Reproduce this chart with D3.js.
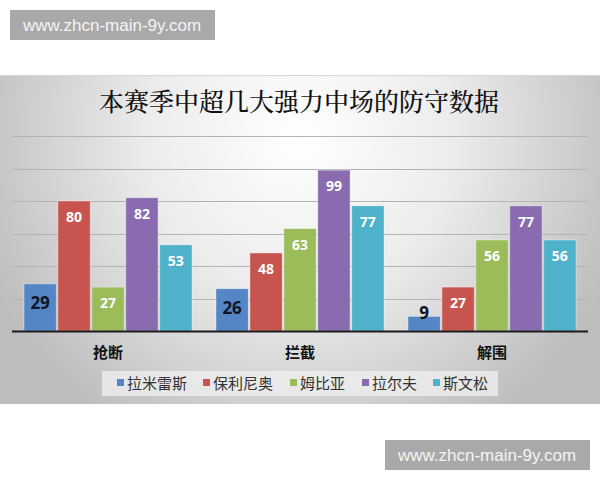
<!DOCTYPE html>
<html>
<head>
<meta charset="utf-8">
<script src="https://cdn.jsdelivr.net/npm/d3@7/dist/d3.min.js"></script>
<style>
  body { margin: 0; background: #fff; }
  svg { display: block; }
</style>
</head>
<body>
<script>
var categories = ["抢断", "拦截", "解围"];
var players = ["拉米雷斯", "保利尼奥", "姆比亚", "拉尔夫", "斯文松"];
var colors = ["#5485c5", "#c8544f", "#9cbc5a", "#8a6baf", "#4fb2cb"];
// one row per player, one value per category
var values = [
    [29, 26, 9],
    [80, 48, 27],
    [27, 63, 56],
    [82, 99, 77],
    [53, 77, 56]
];
var yTicks = [20, 40, 60, 80, 100, 120];

var width = 600, height = 480;
var plotLeft = 12, plotRight = 588;
var plotTop = 136, plotBottom = 331;

var svg = d3.select("body").append("svg")
    .attr("width", width)
    .attr("height", height);

var defs = svg.append("defs");
var grad = defs.append("radialGradient")
    .attr("id", "bg")
    .attr("gradientUnits", "userSpaceOnUse")
    .attr("cx", 300).attr("cy", 140).attr("r", 340);
grad.append("stop").attr("offset", "0").attr("stop-color", "#ffffff");
grad.append("stop").attr("offset", "0.45").attr("stop-color", "#ececec");
grad.append("stop").attr("offset", "1").attr("stop-color", "#bdbdbd");

// chart panel
svg.append("rect")
    .attr("x", 0).attr("y", 75)
    .attr("width", 600).attr("height", 329)
    .attr("fill", "url(#bg)");
svg.append("line")
    .attr("x1", 0).attr("x2", 600)
    .attr("y1", 75.5).attr("y2", 75.5)
    .attr("stroke", "#d8d8d8");

svg.append("text")
    .attr("x", 299).attr("y", 111)
    .attr("text-anchor", "middle")
    .attr("font-family", "'Noto Serif CJK SC', 'Noto Sans CJK SC', serif")
    .attr("font-size", 25)
    .attr("font-weight", 500)
    .attr("fill", "#111")
    .text("本赛季中超几大强力中场的防守数据");

var y = d3.scaleLinear().domain([0, 120]).range([plotBottom, plotTop]);

var x0 = d3.scaleBand().domain(categories).range([plotLeft, plotRight]);
var x1 = d3.scaleBand().domain(players)
    .range([12, x0.bandwidth() - 12])
    .paddingInner(0.05);

svg.append("g").selectAll("line")
    .data(yTicks)
    .join("line")
    .attr("x1", plotLeft).attr("x2", plotRight)
    .attr("y1", function(d) { return Math.round(y(d)) + 0.5; })
    .attr("y2", function(d) { return Math.round(y(d)) + 0.5; })
    .attr("stroke", "#b4b4b4")
    .attr("stroke-width", 1);

var groups = svg.append("g").selectAll("g")
    .data(categories)
    .join("g")
    .attr("transform", function(d) { return "translate(" + x0(d) + ",0)"; });

groups.selectAll("rect")
    .data(function(c, ci) {
        return players.map(function(p, pi) { return {player: p, i: pi, v: values[pi][ci]}; });
    })
    .join("rect")
    .attr("x", function(d) { return x1(d.player); })
    .attr("y", function(d) { return y(d.v); })
    .attr("width", x1.bandwidth())
    .attr("height", function(d) { return plotBottom - y(d.v); })
    .attr("fill", function(d) { return colors[d.i]; })
    .attr("stroke", "rgba(255,255,255,0.45)")
    .attr("stroke-width", 0.8);

groups.selectAll("text.val")
    .data(function(c, ci) {
        return players.map(function(p, pi) { return {player: p, i: pi, v: values[pi][ci]}; });
    })
    .join("text")
    .attr("class", "val")
    .attr("x", function(d) { return x1(d.player) + x1.bandwidth() / 2; })
    .attr("y", function(d) {
        var h = plotBottom - y(d.v);
        if (h < 30) return y(d.v) + 3;
        return y(d.v) + (d.i == 0 ? 25 : 21);
    })
    .attr("text-anchor", "middle")
    .attr("font-family", "'Open Sans', 'DejaVu Sans', sans-serif")
    .attr("font-weight", "bold")
    .attr("font-size", function(d) { return d.i == 0 ? 17 : 14; })
    .attr("fill", function(d) {
        if (d.i == 0) return "#0e1626";
        return plotBottom - y(d.v) < 30 ? "#111" : "#fff";
    })
    .text(function(d) { return d.v; });

// x axis baseline
svg.append("line")
    .attr("x1", plotLeft).attr("x2", plotRight)
    .attr("y1", plotBottom + 0.5).attr("y2", plotBottom + 0.5)
    .attr("stroke", "#1a1a1a")
    .attr("stroke-width", 2);

svg.append("g").selectAll("text")
    .data(categories)
    .join("text")
    .attr("x", function(d) { return x0(d) + x0.bandwidth() / 2; })
    .attr("y", 358)
    .attr("text-anchor", "middle")
    .attr("font-family", "'Noto Sans CJK SC', sans-serif")
    .attr("font-weight", "bold")
    .attr("font-size", 15)
    .attr("fill", "#111")
    .text(function(d) { return d; });

// legend
var legendX = [117, 203, 290, 362, 433];
var legend = svg.append("g");
legend.append("rect")
    .attr("x", 102).attr("y", 371)
    .attr("width", 396).attr("height", 25)
    .attr("fill", "#f0f0f0")
    .attr("fill-opacity", 0.75);

var items = legend.selectAll("g")
    .data(players)
    .join("g")
    .attr("transform", function(d, i) { return "translate(" + legendX[i] + ",383)"; });
items.append("rect")
    .attr("x", 0).attr("y", -4)
    .attr("width", 7).attr("height", 7)
    .attr("fill", function(d, i) { return colors[i]; });
items.append("text")
    .attr("x", 10).attr("y", 6)
    .attr("font-family", "'Noto Sans CJK SC', sans-serif")
    .attr("font-size", 15)
    .attr("fill", "#333")
    .text(function(d) { return d; });

// watermarks
function watermark(x, yy) {
    svg.append("rect")
        .attr("x", x).attr("y", yy)
        .attr("width", 205).attr("height", 30)
        .attr("fill", "#a9a9a9");
    svg.append("text")
        .attr("x", x + 102).attr("y", yy + 21)
        .attr("text-anchor", "middle")
        .attr("font-family", "'Liberation Sans', Arial, sans-serif")
        .attr("font-size", 17)
        .attr("fill", "#f4f4f4")
        .text("www.zhcn-main-9y.com");
}
watermark(10, 10);
watermark(385, 440);
</script>
</body>
</html>
